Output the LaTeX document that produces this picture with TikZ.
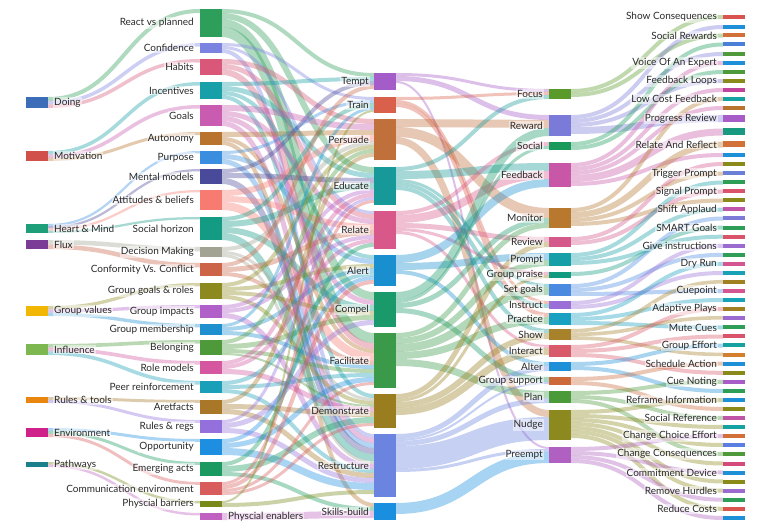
\documentclass[tikz,border=0pt]{standalone}
\usepackage{fontspec}
\setmainfont{Lato}
\usetikzlibrary{calc,backgrounds}
\definecolor{txt}{HTML}{2A2A2A}
% column 1
\definecolor{cDoing}{HTML}{3D6CB9}
\definecolor{cMotiv}{HTML}{D1504A}
\definecolor{cHeart}{HTML}{1F9E7A}
\definecolor{cFlux}{HTML}{7B3C98}
\definecolor{cGval}{HTML}{F2B705}
\definecolor{cInfl}{HTML}{7CB84F}
\definecolor{cRtools}{HTML}{E8860F}
\definecolor{cEnv}{HTML}{D0208A}
\definecolor{cPath}{HTML}{1B7F8C}
% column 2
\definecolor{cReact}{HTML}{2E9E5B}
\definecolor{cConf}{HTML}{7B83E0}
\definecolor{cHabits}{HTML}{D9587A}
\definecolor{cIncent}{HTML}{17A0A8}
\definecolor{cGoals}{HTML}{C95BB0}
\definecolor{cAuton}{HTML}{B8742D}
\definecolor{cPurpose}{HTML}{3A8EE0}
\definecolor{cMental}{HTML}{4A4A9A}
\definecolor{cAttit}{HTML}{F87B72}
\definecolor{cSochor}{HTML}{139B84}
\definecolor{cDecis}{HTML}{A3A394}
\definecolor{cConform}{HTML}{CC6548}
\definecolor{cGgoals}{HTML}{8C8A1E}
\definecolor{cGimp}{HTML}{B060C8}
\definecolor{cGmem}{HTML}{1E90D0}
\definecolor{cBelong}{HTML}{4E9A3A}
\definecolor{cRolem}{HTML}{D457A0}
\definecolor{cPeer}{HTML}{1A9FB8}
\definecolor{cAret}{HTML}{A87828}
\definecolor{cRregs}{HTML}{9370DB}
\definecolor{cOpport}{HTML}{1E8FE0}
\definecolor{cEmerg}{HTML}{1A9A60}
\definecolor{cComm}{HTML}{D95C5C}
\definecolor{cBarr}{HTML}{7A8A1A}
\definecolor{cEnab}{HTML}{C060C0}
% column 3
\definecolor{cTempt}{HTML}{A35CC8}
\definecolor{cTrain}{HTML}{D9604A}
\definecolor{cPersu}{HTML}{C0703A}
\definecolor{cEduc}{HTML}{17999A}
\definecolor{cRelate}{HTML}{D9588A}
\definecolor{cAlert}{HTML}{1A8FD0}
\definecolor{cCompel}{HTML}{1A9A6A}
\definecolor{cFacil}{HTML}{3A9A4A}
\definecolor{cDemon}{HTML}{9A7D1E}
\definecolor{cRestr}{HTML}{6B84E0}
\definecolor{cSkills}{HTML}{1A8FE0}
% column 4
\definecolor{cFocus}{HTML}{5A9A2A}
\definecolor{cReward}{HTML}{7A7AD8}
\definecolor{cSocial}{HTML}{1A9A5A}
\definecolor{cFeedb}{HTML}{C957A8}
\definecolor{cMonit}{HTML}{B8782D}
\definecolor{cReview}{HTML}{D4588A}
\definecolor{cPrompt}{HTML}{179FA8}
\definecolor{cGpraise}{HTML}{139B80}
\definecolor{cSetg}{HTML}{4A8AE0}
\definecolor{cInstr}{HTML}{9A70D8}
\definecolor{cPract}{HTML}{1AA0C0}
\definecolor{cShow}{HTML}{A8822A}
\definecolor{cInter}{HTML}{D95A6A}
\definecolor{cAlter}{HTML}{1E90D8}
\definecolor{cGsupp}{HTML}{CC6A3A}
\definecolor{cPlan}{HTML}{4A9A3A}
\definecolor{cNudge}{HTML}{8C8A1E}
\definecolor{cPreempt}{HTML}{B060C0}
% column 5
\definecolor{fRed}{HTML}{D9534F}
\definecolor{fBlue}{HTML}{1E90D8}
\definecolor{fOrange}{HTML}{D2703A}
\definecolor{fBlueB}{HTML}{4A80D8}
\definecolor{fGreen}{HTML}{4E9A3A}
\definecolor{fOlive}{HTML}{8A8A1A}
\definecolor{fMag}{HTML}{C0449B}
\definecolor{fTeal}{HTML}{17A2A2}
\definecolor{fBrown}{HTML}{B8732D}
\definecolor{fPurple}{HTML}{A85CC8}
\definecolor{fTealG}{HTML}{179A80}
\definecolor{fPeri}{HTML}{6B7FD8}
\definecolor{fGreenB}{HTML}{2E9E57}
\definecolor{fRedB}{HTML}{D9536B}
\definecolor{fPink}{HTML}{C055A8}
\definecolor{fPeriB}{HTML}{7D7AD8}
\definecolor{fLav}{HTML}{9B6BD0}
\definecolor{fPinkB}{HTML}{D45590}
\definecolor{fCyan}{HTML}{17A2B8}
\definecolor{fOchre}{HTML}{A08020}
\definecolor{fOrangeB}{HTML}{D2802D}
\definecolor{fBlueC}{HTML}{5B7FE0}
\definecolor{fMagRed}{HTML}{D44A7A}

% bar: name, x-left, y-top, height, colour
\newcommand\sbar[5]{%
  \node[barst, fill=#5, minimum height=#4pt] (#1) at ({#2+11},{#3+#4/2}) {};%
  \expandafter\gdef\csname out@#1\endcsname{0}%
  \expandafter\gdef\csname in@#1\endcsname{0}}
\newcommand\colA[5]{\sbar{#1}{26}{#2}{#3}{#4}\node[lblst, anchor=west] (#1-l) at ([xshift=5pt]#1.east) {#5};}
\newcommand\colB[5]{\sbar{#1}{200}{#2}{#3}{#4}\node[lblst, anchor=east] (#1-l) at ([xshift=-5pt]#1.west) {#5};}
\newcommand\colC[5]{\sbar{#1}{374}{#2}{#3}{#4}\node[lblst, anchor=east] (#1-l) at ([xshift=-4pt]#1.west) {#5};}
\newcommand\colD[5]{\sbar{#1}{549}{#2}{#3}{#4}\node[lblst, anchor=east] (#1-l) at ([xshift=-5pt]#1.west) {#5};}
\newcommand\colE[5]{\sbar{#1}{723}{#2-#3/2}{#3}{#4}%
  \if\relax\detokenize{#5}\relax\else\node[lblst, anchor=east] (#1-l) at ([xshift=-5pt]#1.west) {#5};\fi}
% link: source, target, width, colour
\newcommand\lnk[4]{%
  \pgfmathsetmacro\lkA{-(\csname out@#1\endcsname)-#3/2}%
  \pgfmathsetmacro\lkB{-(\csname in@#2\endcsname)-#3/2}%
  \draw[lnkst, draw=#4, line width=#3pt] let \p1=([yshift=\lkA pt]#1.north east), \p2=([yshift=\lkB pt]#2.north west) in
    (\p1) .. controls ({(\x1+\x2)/2},\y1) and ({(\x1+\x2)/2},\y2) .. (\p2);%
  \pgfmathsetmacro\lkA{\csname out@#1\endcsname+#3}%
  \expandafter\xdef\csname out@#1\endcsname{\lkA}%
  \pgfmathsetmacro\lkB{\csname in@#2\endcsname+#3}%
  \expandafter\xdef\csname in@#2\endcsname{\lkB}}

\begin{document}
\begin{tikzpicture}[x=1pt,y=-1pt,
  barst/.style={draw=none, rectangle, inner sep=0pt, outer sep=0pt, minimum width=22pt},
  lblst/.style={font=\fontsize{10pt}{12pt}\selectfont, text=txt, inner sep=1pt, fill=white, fill opacity=0.5, text opacity=1},
  lnkst/.style={draw opacity=0.38}]
\useasboundingbox (0,0) rectangle (768,526);
% column 1
\colA{doing}{97}{11}{cDoing}{Doing}
\colA{motiv}{151}{10}{cMotiv}{Motivation}
\colA{heart}{224}{9}{cHeart}{Heart \& Mind}
\colA{flux}{240}{9}{cFlux}{Flux}
\colA{gval}{306}{10}{cGval}{Group values}
\colA{infl}{344}{11}{cInfl}{Influence}
\colA{rtools}{397}{6}{cRtools}{Rules \& tools}
\colA{env}{428}{9}{cEnv}{Environment}
\colA{path}{462}{5}{cPath}{Pathways}
% column 2
\colB{react}{9}{28}{cReact}{React vs planned}
\colB{conf}{43}{10}{cConf}{Confidence}
\colB{habits}{59}{16}{cHabits}{Habits}
\colB{incent}{82}{17}{cIncent}{Incentives}
\colB{goals}{105}{21}{cGoals}{Goals}
\colB{auton}{132}{13}{cAuton}{Autonomy}
\colB{purpose}{151}{13}{cPurpose}{Purpose}
\colB{mental}{169}{15}{cMental}{Mental models}
\colB{attit}{190}{20}{cAttit}{Attitudes \& beliefs}
\colB{sochor}{217}{23}{cSochor}{Social horizon}
\colB{decis}{247}{10}{cDecis}{Decision Making}
\colB{conform}{263}{13}{cConform}{Conformity Vs. Conflict}
\colB{ggoals}{283}{16}{cGgoals}{Group goals \& roles}
\colB{gimp}{305}{13}{cGimp}{Group impacts}
\colB{gmem}{324}{11}{cGmem}{Group membership}
\colB{belong}{340}{15}{cBelong}{Belonging}
\colB{rolem}{361}{13}{cRolem}{Role models}
\colB{peer}{381}{12}{cPeer}{Peer reinforcement}
\colB{aret}{400}{14}{cAret}{Aretfacts}
\colB{rregs}{420}{13}{cRregs}{Rules \& regs}
\colB{opport}{439}{16}{cOpport}{Opportunity}
\colB{emerg}{462}{14}{cEmerg}{Emerging acts}
\colB{comm}{482}{13}{cComm}{Communication environment}
\colB{barr}{501}{6}{cBarr}{Physcial barriers}
\sbar{enab}{200}{513}{7}{cEnab}
\node[lblst, anchor=west] (enab-l) at ([xshift=5pt]enab.east) {Physcial enablers};
% column 3
\colC{tempt}{73}{17}{cTempt}{Tempt}
\colC{train}{97}{16}{cTrain}{Train}
\colC{persu}{119}{41}{cPersu}{Persuade}
\colC{educ}{167}{38}{cEduc}{Educate}
\colC{relate}{211}{38}{cRelate}{Relate}
\colC{alert}{255}{31}{cAlert}{Alert}
\colC{compel}{292}{35}{cCompel}{Compel}
\colC{facil}{333}{55}{cFacil}{Facilitate}
\colC{demon}{394}{34}{cDemon}{Demonstrate}
\colC{restr}{434}{63}{cRestr}{Restructure}
\colC{skills}{503}{17}{cSkills}{Skills-build}
% column 4
\colD{focus}{89}{10}{cFocus}{Focus}
\colD{reward}{115}{21}{cReward}{Reward}
\colD{social}{142}{8}{cSocial}{Social}
\colD{feedb}{163}{24}{cFeedb}{Feedback}
\colD{monit}{208}{20}{cMonit}{Monitor}
\colD{review}{237}{10}{cReview}{Review}
\colD{prompt}{253}{13}{cPrompt}{Prompt}
\colD{gpraise}{272}{6}{cGpraise}{Group praise}
\colD{setg}{284}{12}{cSetg}{Set goals}
\colD{instr}{301}{8}{cInstr}{Instruct}
\colD{pract}{313}{12}{cPract}{Practice}
\colD{show}{329}{11}{cShow}{Show}
\colD{inter}{345}{12}{cInter}{Interact}
\colD{alter}{362}{9}{cAlter}{Alter}
\colD{gsupp}{377}{8}{cGsupp}{Group support}
\colD{plan}{391}{12}{cPlan}{Plan}
\colD{nudge}{410}{30}{cNudge}{Nudge}
\colD{preempt}{447}{16}{cPreempt}{Preempt}
% column 5
\colE{r1}{17}{4}{fRed}{Show Consequences}
\colE{r2}{27}{4}{fBlue}{}
\colE{r3}{35.5}{4}{fOrange}{Social Rewards}
\colE{r4}{44.5}{4}{fBlueB}{}
\colE{r5}{54}{4}{fGreen}{}
\colE{r6}{63}{4}{fBlue}{Voice Of An Expert}
\colE{r7}{72}{4}{fGreen}{}
\colE{r8}{81}{4}{fOlive}{Feedback Loops}
\colE{r9}{90}{4}{fMag}{}
\colE{r10}{99}{4}{fTeal}{Low Cost Feedback}
\colE{r11}{108}{4}{fBrown}{}
\colE{r12}{118.5}{7}{fPurple}{Progress Review}
\colE{r13}{132}{7}{fTealG}{}
\colE{r14}{144.5}{6}{fOrange}{Relate And Reflect}
\colE{r15}{155}{4}{fBlue}{}
\colE{r16}{164}{4}{fOlive}{}
\colE{r17}{173.5}{4}{fPeri}{Trigger Prompt}
\colE{r18}{182.5}{4}{fGreenB}{}
\colE{r19}{191.5}{4}{fRedB}{Signal Prompt}
\colE{r20}{200.5}{4}{fOlive}{}
\colE{r21}{209.5}{4}{fPink}{Shift Applaud}
\colE{r22}{218.5}{4}{fPeriB}{}
\colE{r23}{227.6}{4}{fGreenB}{SMART Goals}
\colE{r24}{236.7}{4}{fRedB}{}
\colE{r25}{245.8}{4}{fLav}{Give instructions}
\colE{r26}{254.8}{4}{fGreenB}{}
\colE{r27}{263.9}{4}{fPinkB}{Dry Run}
\colE{r28}{273}{4}{fCyan}{}
\colE{r29}{282}{4}{fOchre}{}
\colE{r30}{291}{4}{fPinkB}{Cuepoint}
\colE{r31}{300}{4}{fCyan}{}
\colE{r32}{309}{4}{fOchre}{Adaptive Plays}
\colE{r33}{318}{4}{fLav}{}
\colE{r34}{327.5}{4}{fGreenB}{Mute Cues}
\colE{r35}{336.5}{4}{fRedB}{}
\colE{r36}{345.5}{4}{fTeal}{Group Effort}
\colE{r37}{354.6}{4}{fOrangeB}{}
\colE{r38}{363.7}{4}{fBlue}{Schedule Action}
\colE{r39}{372.8}{4}{fOlive}{}
\colE{r40}{381.9}{4}{fPurple}{Cue Noting}
\colE{r41}{391}{4}{fGreenB}{}
\colE{r42}{400}{4}{fBlue}{Reframe Information}
\colE{r43}{409}{4}{fOlive}{}
\colE{r44}{418}{4}{fPink}{Social Reference}
\colE{r45}{427}{4}{fTeal}{}
\colE{r46}{436}{4}{fOrange}{Change Choice Effort}
\colE{r47}{445}{4}{fBlueC}{}
\colE{r48}{454}{4}{fGreen}{Change Consequences}
\colE{r49}{463.5}{4}{fMagRed}{}
\colE{r50}{472.5}{4}{fBlue}{Commitment Device}
\colE{r51}{481.5}{4}{fOlive}{}
\colE{r52}{490.6}{4}{fLav}{Remove Hurdles}
\colE{r53}{499.7}{4}{fGreenB}{}
\colE{r54}{508.8}{4}{fRed}{Reduce Costs}
\colE{r55}{518}{4}{fBlue}{}

\begin{scope}[on background layer]
\fill[white] (0,0) rectangle (768,526);
% column 1 -> column 2
\lnk{doing}{react}{4}{cReact}
\lnk{doing}{conf}{3.5}{cConf}
\lnk{doing}{habits}{3.5}{cHabits}
\lnk{motiv}{incent}{3.5}{cIncent}
\lnk{motiv}{goals}{3.5}{cGoals}
\lnk{motiv}{auton}{3}{cAuton}
\lnk{heart}{purpose}{2.25}{cPurpose}
\lnk{heart}{mental}{2.25}{cMental}
\lnk{heart}{attit}{2.25}{cAttit}
\lnk{heart}{sochor}{2.25}{cSochor}
\lnk{flux}{decis}{4.5}{cDecis}
\lnk{flux}{conform}{4.5}{cConform}
\lnk{gval}{ggoals}{3.3}{cGgoals}
\lnk{gval}{gimp}{3.3}{cGimp}
\lnk{gval}{gmem}{3.4}{cGmem}
\lnk{infl}{belong}{3.7}{cBelong}
\lnk{infl}{rolem}{3.7}{cRolem}
\lnk{infl}{peer}{3.6}{cPeer}
\lnk{rtools}{aret}{3}{cAret}
\lnk{rtools}{rregs}{3}{cRregs}
\lnk{env}{opport}{3}{cOpport}
\lnk{env}{emerg}{3}{cEmerg}
\lnk{env}{comm}{3}{cComm}
\lnk{path}{barr}{2.5}{cBarr}
\lnk{path}{enab}{2.5}{cEnab}
% column 2 -> column 3
\lnk{react}{tempt}{4}{cReact}\lnk{react}{educ}{6}{cReact}\lnk{react}{compel}{8}{cReact}\lnk{react}{facil}{10}{cReact}
\lnk{conf}{train}{3}{cConf}\lnk{conf}{relate}{3}{cConf}\lnk{conf}{restr}{4}{cConf}
\lnk{habits}{persu}{5}{cHabits}\lnk{habits}{relate}{5}{cHabits}\lnk{habits}{facil}{6}{cHabits}
\lnk{incent}{tempt}{4}{cIncent}\lnk{incent}{educ}{5}{cIncent}\lnk{incent}{alert}{4}{cIncent}\lnk{incent}{demon}{4}{cIncent}
\lnk{goals}{persu}{6}{cGoals}\lnk{goals}{relate}{5}{cGoals}\lnk{goals}{compel}{5}{cGoals}\lnk{goals}{restr}{5}{cGoals}
\lnk{auton}{persu}{5}{cAuton}\lnk{auton}{facil}{4}{cAuton}\lnk{auton}{skills}{4}{cAuton}
\lnk{purpose}{train}{3}{cPurpose}\lnk{purpose}{alert}{5}{cPurpose}\lnk{purpose}{restr}{5}{cPurpose}
\lnk{mental}{tempt}{4}{cMental}\lnk{mental}{educ}{5}{cMental}\lnk{mental}{restr}{6}{cMental}
\lnk{attit}{persu}{6}{cAttit}\lnk{attit}{relate}{6}{cAttit}\lnk{attit}{facil}{8}{cAttit}
\lnk{sochor}{train}{4}{cSochor}\lnk{sochor}{educ}{6}{cSochor}\lnk{sochor}{compel}{6}{cSochor}\lnk{sochor}{restr}{7}{cSochor}
\lnk{decis}{persu}{4}{cDecis}\lnk{decis}{demon}{3}{cDecis}\lnk{decis}{restr}{3}{cDecis}
\lnk{conform}{tempt}{4}{cConform}\lnk{conform}{relate}{5}{cConform}\lnk{conform}{facil}{4}{cConform}
\lnk{ggoals}{persu}{4}{cGgoals}\lnk{ggoals}{alert}{4}{cGgoals}\lnk{ggoals}{compel}{4}{cGgoals}\lnk{ggoals}{demon}{4}{cGgoals}
\lnk{gimp}{educ}{4}{cGimp}\lnk{gimp}{relate}{4}{cGimp}\lnk{gimp}{restr}{5}{cGimp}
\lnk{gmem}{train}{3}{cGmem}\lnk{gmem}{alert}{4}{cGmem}\lnk{gmem}{facil}{4}{cGmem}
\lnk{belong}{persu}{4}{cBelong}\lnk{belong}{compel}{5}{cBelong}\lnk{belong}{facil}{4}{cBelong}\lnk{belong}{demon}{2}{cBelong}
\lnk{rolem}{educ}{4}{cRolem}\lnk{rolem}{relate}{4}{cRolem}\lnk{rolem}{demon}{5}{cRolem}
\lnk{peer}{alert}{4}{cPeer}\lnk{peer}{facil}{4}{cPeer}\lnk{peer}{restr}{4}{cPeer}
\lnk{aret}{persu}{4}{cAret}\lnk{aret}{demon}{5}{cAret}\lnk{aret}{restr}{5}{cAret}
\lnk{rregs}{educ}{3}{cRregs}\lnk{rregs}{compel}{5}{cRregs}\lnk{rregs}{restr}{5}{cRregs}
\lnk{opport}{alert}{4}{cOpport}\lnk{opport}{facil}{5}{cOpport}\lnk{opport}{restr}{7}{cOpport}
\lnk{emerg}{relate}{4}{cEmerg}\lnk{emerg}{demon}{6}{cEmerg}\lnk{emerg}{skills}{4}{cEmerg}
\lnk{comm}{educ}{3}{cComm}\lnk{comm}{alert}{4}{cComm}\lnk{comm}{facil}{3}{cComm}\lnk{comm}{demon}{3}{cComm}
\lnk{barr}{train}{2}{cBarr}\lnk{barr}{restr}{4}{cBarr}
\lnk{enab}{skills}{7}{cEnab}
% column 3 -> column 4
\lnk{tempt}{focus}{3}{cTempt}\lnk{tempt}{reward}{5}{cTempt}\lnk{tempt}{preempt}{2}{cTempt}
\lnk{train}{focus}{3}{cTrain}\lnk{train}{instr}{3}{cTrain}\lnk{train}{pract}{4}{cTrain}
\lnk{persu}{reward}{8}{cPersu}\lnk{persu}{monit}{10}{cPersu}\lnk{persu}{nudge}{7}{cPersu}
\lnk{educ}{focus}{4}{cEduc}\lnk{educ}{feedb}{8}{cEduc}\lnk{educ}{setg}{3}{cEduc}\lnk{educ}{instr}{4}{cEduc}\lnk{educ}{show}{4}{cEduc}
\lnk{relate}{social}{4}{cRelate}\lnk{relate}{feedb}{8}{cRelate}\lnk{relate}{review}{5}{cRelate}\lnk{relate}{gpraise}{3}{cRelate}\lnk{relate}{inter}{3}{cRelate}
\lnk{alert}{feedb}{8}{cAlert}\lnk{alert}{prompt}{7}{cAlert}\lnk{alert}{alter}{4}{cAlert}
\lnk{compel}{reward}{8}{cCompel}\lnk{compel}{social}{3}{cCompel}\lnk{compel}{monit}{5}{cCompel}\lnk{compel}{gsupp}{5}{cCompel}
\lnk{facil}{monit}{5}{cFacil}\lnk{facil}{prompt}{6}{cFacil}\lnk{facil}{setg}{8}{cFacil}\lnk{facil}{pract}{7}{cFacil}\lnk{facil}{plan}{7}{cFacil}
\lnk{demon}{review}{5}{cDemon}\lnk{demon}{gpraise}{3}{cDemon}\lnk{demon}{show}{6}{cDemon}\lnk{demon}{inter}{7}{cDemon}
\lnk{restr}{alter}{5}{cRestr}\lnk{restr}{gsupp}{2}{cRestr}\lnk{restr}{plan}{5}{cRestr}\lnk{restr}{nudge}{23}{cRestr}\lnk{restr}{preempt}{3}{cRestr}
\lnk{skills}{preempt}{11}{cSkills}
% column 4 -> column 5
\lnk{focus}{r1}{4}{cFocus}\lnk{focus}{r3}{4}{cFocus}
\lnk{reward}{r2}{4}{cReward}\lnk{reward}{r5}{4}{cReward}\lnk{reward}{r8}{4}{cReward}\lnk{reward}{r12}{7}{cReward}
\lnk{social}{r4}{4}{cSocial}\lnk{social}{r7}{4}{cSocial}
\lnk{feedb}{r6}{4}{cFeedb}\lnk{feedb}{r9}{4}{cFeedb}\lnk{feedb}{r11}{4}{cFeedb}\lnk{feedb}{r13}{7}{cFeedb}\lnk{feedb}{r15}{4}{cFeedb}
\lnk{monit}{r10}{4}{cMonit}\lnk{monit}{r14}{6}{cMonit}\lnk{monit}{r17}{4}{cMonit}\lnk{monit}{r20}{4}{cMonit}
\lnk{review}{r16}{4}{cReview}\lnk{review}{r19}{4}{cReview}
\lnk{prompt}{r18}{4}{cPrompt}\lnk{prompt}{r21}{4}{cPrompt}\lnk{prompt}{r24}{4}{cPrompt}
\lnk{gpraise}{r23}{4}{cGpraise}
\lnk{setg}{r22}{4}{cSetg}\lnk{setg}{r26}{4}{cSetg}\lnk{setg}{r30}{4}{cSetg}
\lnk{instr}{r25}{4}{cInstr}\lnk{instr}{r28}{4}{cInstr}
\lnk{pract}{r27}{4}{cPract}\lnk{pract}{r31}{4}{cPract}\lnk{pract}{r34}{4}{cPract}
\lnk{show}{r29}{3.6}{cShow}\lnk{show}{r33}{3.6}{cShow}\lnk{show}{r37}{3.6}{cShow}
\lnk{inter}{r32}{4}{cInter}\lnk{inter}{r35}{4}{cInter}\lnk{inter}{r39}{4}{cInter}
\lnk{alter}{r36}{4}{cAlter}\lnk{alter}{r41}{4}{cAlter}
\lnk{gsupp}{r38}{4}{cGsupp}\lnk{gsupp}{r43}{4}{cGsupp}
\lnk{plan}{r40}{4}{cPlan}\lnk{plan}{r44}{4}{cPlan}\lnk{plan}{r48}{4}{cPlan}
\lnk{nudge}{r42}{4}{cNudge}\lnk{nudge}{r45}{4}{cNudge}\lnk{nudge}{r47}{4}{cNudge}\lnk{nudge}{r49}{4}{cNudge}\lnk{nudge}{r51}{4}{cNudge}\lnk{nudge}{r52}{4}{cNudge}\lnk{nudge}{r54}{4}{cNudge}
\lnk{preempt}{r46}{4}{cPreempt}\lnk{preempt}{r50}{4}{cPreempt}\lnk{preempt}{r53}{4}{cPreempt}\lnk{preempt}{r55}{4}{cPreempt}
\end{scope}
\end{tikzpicture}
\end{document}
